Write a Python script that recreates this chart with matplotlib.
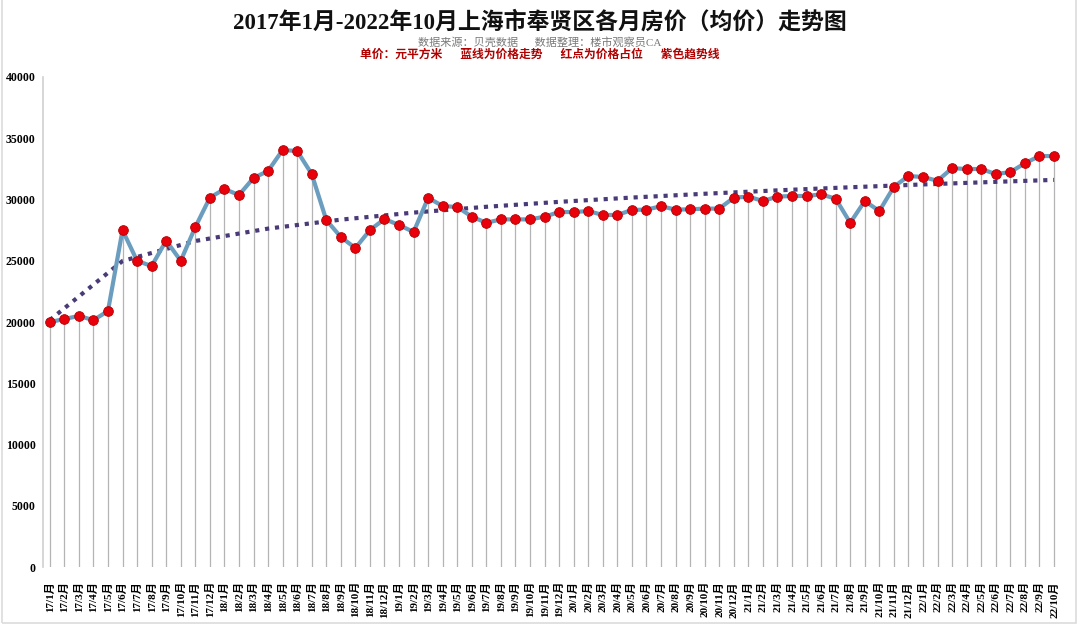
import matplotlib

matplotlib.use("Agg")
import matplotlib.pyplot as plt
import numpy as np
from matplotlib.patches import Rectangle

plt.rcParams["font.family"] = ["Liberation Serif", "Noto Sans CJK SC", "DejaVu Sans"]

# monthly labels 17/1 .. 22/10
months = [f"{y}/{m}月" for y in range(17, 23) for m in range(1, 13)][:70]

# average price (yuan / m2)
prices = [
    20000, 20250, 20500, 20160, 20900, 27500, 25000, 24570, 26650, 25000,
    27750, 30150, 30860, 30370, 31760, 32330, 34040, 33960, 32080, 28330,
    26940, 26040, 27510, 28410, 27920, 27350, 30140, 29470, 29390, 28600,
    28100, 28380, 28380, 28380, 28600, 28980, 28980, 29060, 28740, 28740,
    29150, 29180, 29450, 29180, 29200, 29260, 29260, 30150, 30240, 29880,
    30240, 30290, 30290, 30420, 30070, 28100, 29880, 29060, 31040, 31920,
    31840, 31530, 32560, 32490, 32490, 32080, 32240, 32960, 33550, 33550,
]

x = np.arange(len(prices))
y = np.array(prices, dtype=float)

# Excel-style logarithmic trendline fitted on the data, drawn in coarse steps
b, a = np.polyfit(np.log(x + 1), y, 1)
xt = np.r_[x[::5], x[-1]]
trend = a + b * np.log(xt + 1)

fig = plt.figure(figsize=(10.8, 6.26), dpi=100)
ax = fig.add_axes([0.040, 0.094, 0.944, 0.783])

ax.vlines(x, 0, y, color="#b4b4b4", lw=0.9, zorder=1)
ax.plot(xt, trend, color="#4a3b78", lw=3, ls=(0, (1, 1.4)), zorder=2)
ax.plot(x, y, color="#6b9dbf", lw=3, zorder=3)
ax.plot(x, y, "o", color="#e8000b", mec="#b40000", mew=0.6, ms=7, zorder=4)

ax.set_xlim(-0.45, 69.6)
ax.set_ylim(0, 40000)
ax.set_yticks(range(0, 40001, 5000))
ax.set_xticks(x)
ax.set_xticklabels(months, rotation=90, fontsize=8, fontweight="bold")
ax.tick_params(axis="y", length=0, labelsize=8.5, pad=5.5)
ax.tick_params(axis="x", length=0, pad=10)
for lab in ax.get_yticklabels():
    lab.set_fontweight("bold")
for side in ("top", "right", "bottom"):
    ax.spines[side].set_visible(False)
ax.spines["left"].set_color("#d0d0d0")
ax.spines["left"].set_linewidth(1.2)

fig.text(0.5, 0.965, "2017年1月-2022年10月上海市奉贤区各月房价（均价）走势图",
         ha="center", va="center", fontsize=16.5, fontweight="bold", color="#111111")
fig.text(0.5, 0.932, "数据来源：贝壳数据      数据整理：楼市观察员CA",
         ha="center", va="center", fontsize=8, color="#7a7a7a")
fig.text(0.5, 0.912, "单价：元平方米      蓝线为价格走势      红点为价格占位      紫色趋势线",
         ha="center", va="center", fontsize=8.5, fontweight="bold", color="#b00000")

# light frame round the chart area
fig.patches.append(Rectangle((0.002, 0.005), 0.994, 1.2, transform=fig.transFigure,
                             fill=False, edgecolor="#dcdcdc", lw=1.2))

fig.savefig("out.png", dpi=100, facecolor="white")
